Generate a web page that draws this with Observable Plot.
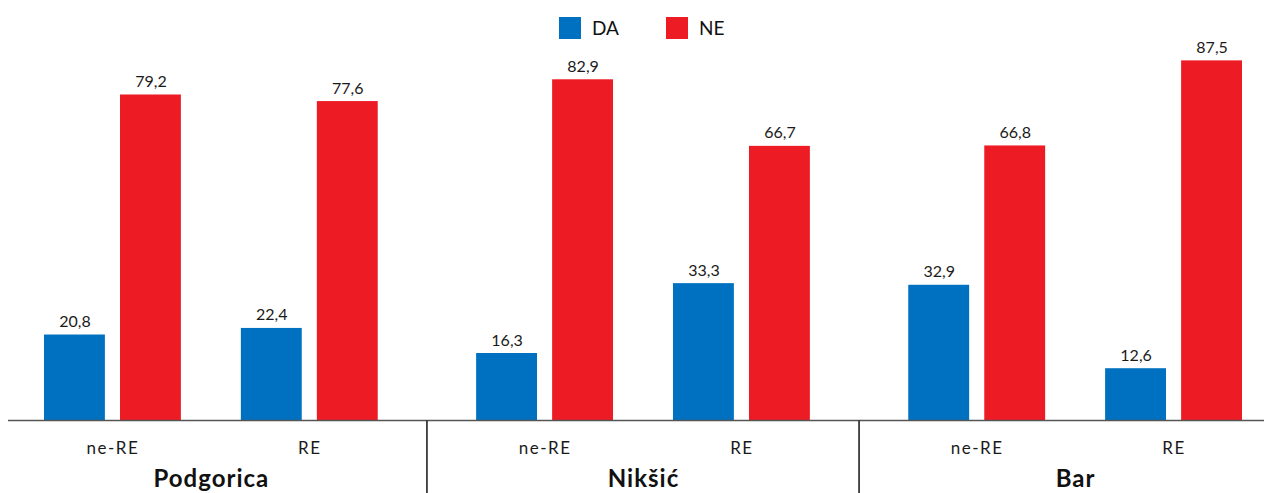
<!DOCTYPE html>
<html>
<head>
<meta charset="utf-8">
<script src="https://cdn.jsdelivr.net/npm/d3@7"></script>
<script src="https://cdn.jsdelivr.net/npm/@observablehq/plot@0.6"></script>
<style>
  html, body { margin: 0; padding: 0; background: #fff; }
  #wrap { position: relative; width: 1264px; height: 493px; overflow: hidden; font-family: Lato, "Open Sans", sans-serif; }
  #legend { position: absolute; top: 16px; left: 559px; display: flex; align-items: center; font-size: 19px; color: #111; }
  .item { display: flex; align-items: center; margin-right: 47px; }
  .sw { width: 22px; height: 22px; margin-right: 11px; }
  g[aria-label="x-axis tick label"] { letter-spacing: 1.5px; }
  g[aria-label="fx-axis tick label"] { letter-spacing: 1px; }
  g[aria-label="value label"] { letter-spacing: 0.5px; }
</style>
</head>
<body>
<div id="wrap"><div id="legend"></div></div>
<script>
const cities = ["Podgorica", "Nikšić", "Bar"];
const subgroups = ["ne-RE", "RE"];
const series = ["DA", "NE"];
const colors = ["#0070C0", "#ED1C24"];
const daValues = [20.8, 22.4, 16.3, 33.3, 32.9, 12.6];
const neValues = [79.2, 77.6, 82.9, 66.7, 66.8, 87.5];

const rows = [];
cities.forEach((c, i) => subgroups.forEach((s, j) => {
  const k = i * subgroups.length + j;
  rows.push({city: c, sub: s, series: "DA", value: daValues[k]});
  rows.push({city: c, sub: s, series: "NE", value: neValues[k]});
}));
const da = rows.filter(d => d.series === "DA");
const ne = rows.filter(d => d.series === "NE");
const fmt = d => d.value.toFixed(1).replace(".", ",");
const font = "Lato, 'Open Sans', sans-serif";

const W = 1264, H = 493;
const plot = Plot.plot({
  width: W, height: H,
  marginLeft: 44, marginRight: 22, marginTop: 9, marginBottom: 73,
  style: {fontFamily: font, background: "transparent", overflow: "visible"},
  fx: {domain: cities, paddingInner: 0.2277, paddingOuter: 0, round: false, label: null},
  x: {domain: subgroups, paddingInner: 0.3046, paddingOuter: 0, round: false, label: null},
  y: {domain: [0, 100], axis: null},
  marks: [
    Plot.barY(da, {fx: "city", x: "sub", y: "value", fill: colors[0], insetRight: 76}),
    Plot.barY(ne, {fx: "city", x: "sub", y: "value", fill: colors[1], insetLeft: 76}),
    Plot.text(da, {fx: "city", x: "sub", y: "value", text: fmt, dx: -38, dy: -8, lineAnchor: "bottom", fontSize: 16, fill: "#1a1a1a", ariaLabel: "value label"}),
    Plot.text(ne, {fx: "city", x: "sub", y: "value", text: fmt, dx: 38, dy: -8, lineAnchor: "bottom", fontSize: 16, fill: "#1a1a1a", ariaLabel: "value label"}),
    Plot.axisX({tickSize: 0, tickPadding: 21, fontSize: 17, fill: "#1a1a1a", label: null}),
    Plot.axisFx({anchor: "bottom", tickSize: 0, tickPadding: 49, fontSize: 24, fontWeight: "bold", fill: "#111", label: null})
  ]
});
document.getElementById("wrap").appendChild(plot);

// baseline and group dividers, positioned from the plot's scales
const svg = d3.select(plot);
const y0 = plot.scale("y").apply(0);
const fx = plot.scale("fx");
const bw = fx.bandwidth;
svg.append("line").attr("x1", 8).attr("x2", W).attr("y1", y0 + 0.5).attr("y2", y0 + 0.5)
  .attr("stroke", "#555").attr("stroke-width", 1.6);
for (let i = 1; i < cities.length; i++) {
  const xm = (fx.apply(cities[i - 1]) + bw + fx.apply(cities[i])) / 2;
  svg.append("line").attr("x1", xm).attr("x2", xm).attr("y1", y0 + 0.5).attr("y2", H)
    .attr("stroke", "#222").attr("stroke-width", 1.6);
}

// legend
const lg = d3.select("#legend");
series.forEach((s, i) => {
  const it = lg.append("div").attr("class", "item");
  it.append("div").attr("class", "sw").style("background", colors[i]);
  it.append("span").text(s);
});
</script>
</body>
</html>
